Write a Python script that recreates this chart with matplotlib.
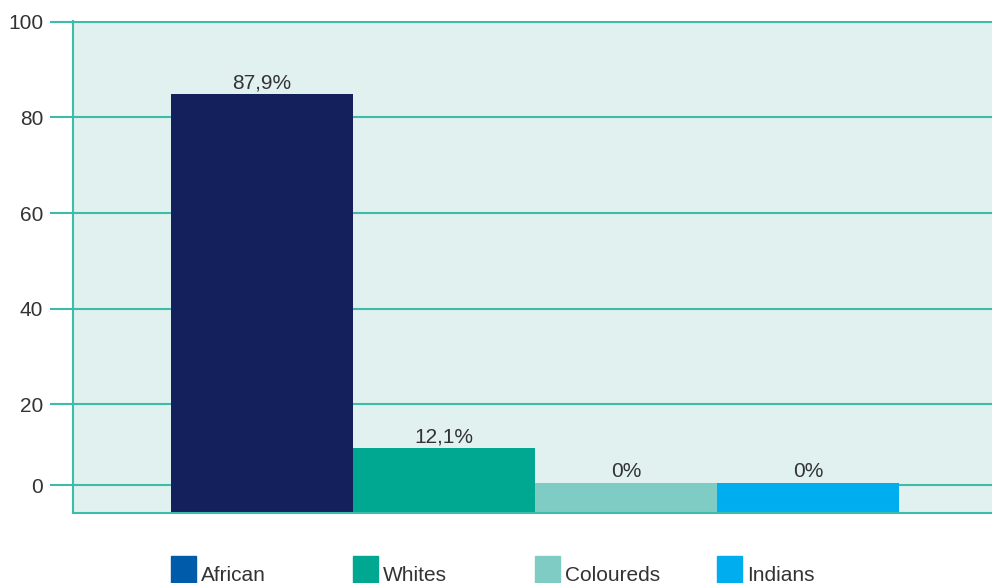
import matplotlib.pyplot as plt
from matplotlib.patches import Rectangle
from matplotlib.transforms import blended_transform_factory

plt.rcParams['font.family'] = ['Liberation Sans', 'DejaVu Sans']

# data (bar tops in axis units; the axis floor sits below 0)
groups = ['African', 'Whites', 'Coloureds', 'Indians']
bar_tops = [84.9, 10.8, 3.5, 3.5]
bar_labels = ['87,9%', '12,1%', '0%', '0%']
bar_colors = ['#14205C', '#00A891', '#7ECCC3', '#00AEEF']
legend_colors = ['#005BAA', '#00A891', '#7ECCC3', '#00AEEF']
tick_pos = [3, 20, 40, 60, 80, 100]
tick_labels = ['0', '20', '40', '60', '80', '100']
y_floor = -2.8

bg = '#E1F1EF'
teal = '#3DBDA9'
txt = '#333333'

fig = plt.figure(figsize=(9.92, 5.83), dpi=100)
ax = fig.add_axes([73 / 992, 1 - 513 / 583, 1 - 73 / 992, (513 - 21) / 583])
ax.set_facecolor(bg)

x = list(range(len(groups)))
ax.bar(x, [t - y_floor for t in bar_tops], bottom=y_floor, width=1,
       color=bar_colors, zorder=2)

for i, (top, lab) in enumerate(zip(bar_tops, bar_labels)):
    ax.annotate(lab, (i, top), xytext=(0, 6), textcoords='offset pixels',
                ha='center', va='baseline', fontsize=15, color=txt)

ax.set_xlim(-1.038, 4.012)
ax.set_ylim(y_floor, 100.2)
ax.set_yticks(tick_pos, tick_labels)
ax.tick_params(axis='y', length=16.5, width=1.5, color=teal, pad=5,
               labelsize=15, labelcolor=txt)
ax.tick_params(axis='x', bottom=False, labelbottom=False)
ax.grid(axis='y', color=teal, lw=1.5, zorder=1)
ax.set_axisbelow(True)
for s in ['top', 'right']:
    ax.spines[s].set_visible(False)
for s in ['left', 'bottom']:
    ax.spines[s].set_color(teal)
    ax.spines[s].set_linewidth(1.5)
    ax.spines[s].set_zorder(3)

# legend row under the plot, each entry lined up with its bar's left edge
trans = blended_transform_factory(ax.transData, fig.transFigure)
for i, (name, c) in enumerate(zip(groups, legend_colors)):
    fig.add_artist(Rectangle((i - 0.5, -0.01), 0.137, 0.0563,
                             transform=trans, color=c))
    fig.text(i - 0.5 + 0.165, 0.004, name, transform=trans,
             ha='left', va='baseline', fontsize=15, color=txt)

fig.savefig('out.png', dpi=100)
